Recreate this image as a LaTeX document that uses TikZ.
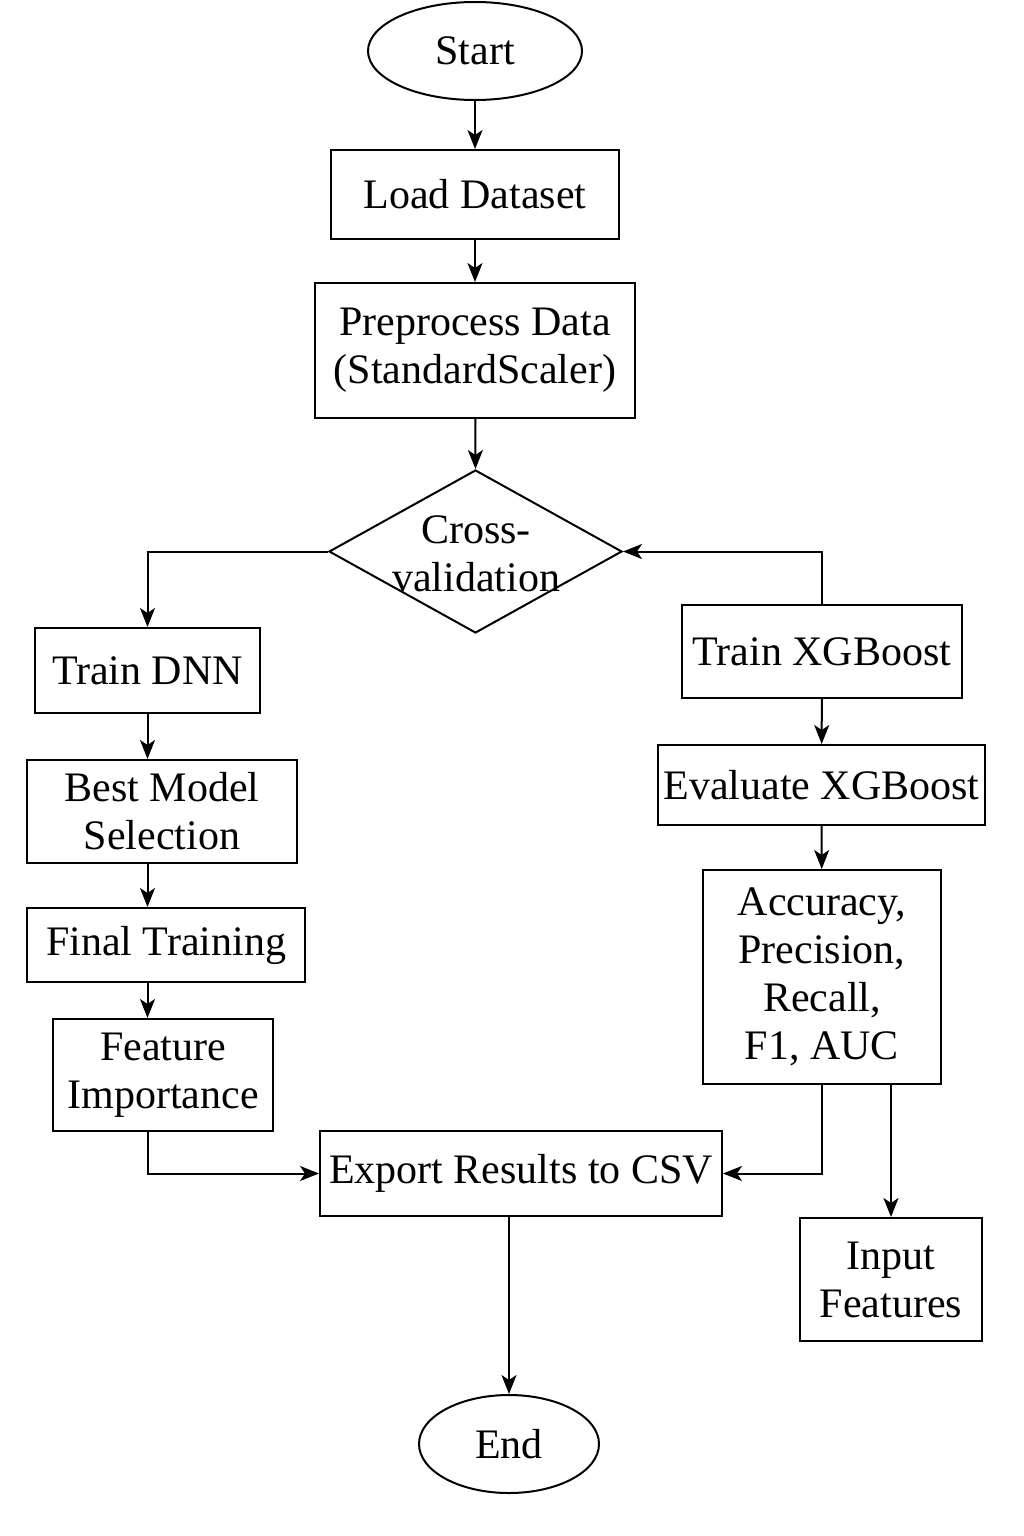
\documentclass[tikz,border=0pt]{standalone}
\usepackage{fontspec}
\setmainfont{Liberation Serif}
\usetikzlibrary{shapes.geometric,arrows.meta}
\begin{document}
\begin{tikzpicture}[x=1pt,y=-1pt,
  every node/.style={font=\fontsize{42}{48}\selectfont, align=center, inner sep=0pt, line width=2pt},
  boxnode/.style={draw, rectangle},
  termnode/.style={draw, ellipse},
  conn/.style={line width=2pt, -{Stealth[length=19pt,width=15pt,inset=5pt]}},
  plain/.style={line width=2pt}
]
\useasboundingbox (0,0) rectangle (1024,1536);
\fill[white] (0,0) rectangle (1024,1536);

\node[termnode, minimum width=214pt, minimum height=98pt] (start) at (475,51) {Start};
\node[boxnode, minimum width=288pt, minimum height=89pt] (load) at (475,194.5) {Load Dataset};
\node[boxnode, minimum width=320pt, minimum height=135pt] (pre) at (475,350.5) {Preprocess Data\\(StandardScaler)};
\node[diamond, draw, minimum width=293pt, minimum height=163pt] (cv) at (475.5,551.5) {};
\node (cvt) at (476,554) {Cross-\\validation};

\node[boxnode, minimum width=225pt, minimum height=85pt] (dnn) at (147.5,670.5) {Train DNN};
\node[boxnode, minimum width=270pt, minimum height=103pt] (best) at (162,811.5) {Best Model\\Selection};
\node[boxnode, minimum width=278pt, minimum height=74pt] (fin) at (166,945) {Final Training};
\node[boxnode, minimum width=220pt, minimum height=112pt] (fi) at (163,1075) {Feature\\Importance};

\node[boxnode, minimum width=402pt, minimum height=85pt] (exp) at (521,1173.5) {Export Results to CSV};
\node[termnode, minimum width=180pt, minimum height=98pt] (end) at (509,1444) {End};

\node[boxnode, minimum width=280pt, minimum height=93pt] (xgb) at (822,651.5) {Train XGBoost};
\node[boxnode, minimum width=327pt, minimum height=80pt] (eval) at (821.5,785) {Evaluate XGBoost};
\node[boxnode, minimum width=238pt, minimum height=214pt] (met) at (822,977) {Accuracy,\\Precision,\\Recall,\\F1, AUC};
\node[boxnode, minimum width=182pt, minimum height=123pt] (inp) at (891,1279.5) {Input\\Features};

\draw[conn] (start) -- (load);
\draw[conn] (load) -- (pre);
\draw[conn] (pre) -- (cv.north);
\draw[conn] (cv.west) -| (dnn.north);
\draw[conn] (xgb.north) |- (cv.east);
\draw[conn] (dnn.south) -- (dnn.south |- best.north);
\draw[conn] (dnn.south |- best.south) -- (dnn.south |- fin.north);
\draw[conn] (dnn.south |- fin.south) -- (dnn.south |- fi.north);
\draw[conn] (dnn.south |- fi.south) |- (exp.west);
\draw[conn] (xgb) -- (eval);
\draw[conn] (eval) -- (met);
\draw[conn] (met.south) |- (exp.east);
\draw[conn] (inp.north |- met.south) -- (inp.north);
\draw[conn] (end.north |- exp.south) -- (end.north);
\end{tikzpicture}
\end{document}
